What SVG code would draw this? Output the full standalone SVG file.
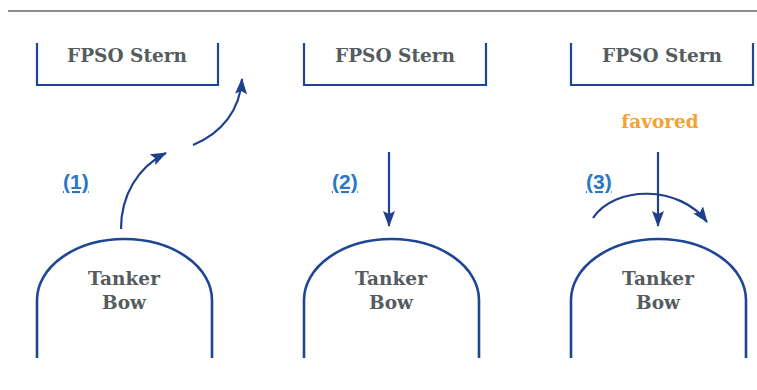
<svg xmlns="http://www.w3.org/2000/svg" width="757" height="390" viewBox="0 0 757 390">
<defs>
<marker id="ah2" markerWidth="16" markerHeight="12" refX="15" refY="6" orient="auto" markerUnits="userSpaceOnUse" viewBox="0 0 16 12">
<path d="M0,0 L16,6 L0,12 L3,6 z" fill="#1f3f8f"/>
</marker>
</defs>
<style>
.box{fill:none;stroke:#1f4595;stroke-width:2.2}
.bow{fill:none;stroke:#1f4595;stroke-width:2.6}
.t{font-family:"DejaVu Serif",serif;font-weight:bold;font-size:18.5px;fill:#555c60;text-anchor:middle}
.lbl{font-family:"Liberation Sans",Arial,sans-serif;font-weight:bold;font-size:21px;fill:#2a78c4;text-decoration:underline}
.fav{font-family:"DejaVu Serif",serif;font-weight:bold;font-size:18.5px;fill:#f4a233;text-anchor:middle}
.c{fill:none;stroke:#1f3f8f;stroke-width:2.2}
</style>
<line x1="8" y1="11" x2="757" y2="11" stroke="#8a8c8e" stroke-width="2"/>
<g id="fpso1"><path class="box" d="M37,43 V85 H218 V43"/><text class="t" x="127" y="62">FPSO Stern</text></g>
<g id="fpso2"><path class="box" d="M304,43 V85 H486 V43"/><text class="t" x="395" y="62">FPSO Stern</text></g>
<g id="fpso3"><path class="box" d="M571,43 V85 H753 V43"/><text class="t" x="662" y="62">FPSO Stern</text></g>
<g id="bow1"><path class="bow" d="M37,358 V300 A87.5,61 0 0 1 212,300 V358"/><text class="t" x="124" y="285">Tanker</text><text class="t" x="124" y="309">Bow</text></g>
<g id="bow2"><path class="bow" d="M304,358 V300 A87.5,61 0 0 1 479,300 V358"/><text class="t" x="391" y="285">Tanker</text><text class="t" x="391" y="309">Bow</text></g>
<g id="bow3"><path class="bow" d="M571,358 V300 A87.5,61 0 0 1 746,300 V358"/><text class="t" x="658" y="285">Tanker</text><text class="t" x="658" y="309">Bow</text></g>
<g id="labels">
<text class="lbl" x="63" y="189">(1)</text>
<text class="lbl" x="332" y="189">(2)</text>
<text class="lbl" x="586" y="189">(3)</text>
<text class="fav" x="660" y="128">favored</text>
</g>
<g id="connectors">
<path class="c" d="M121,229 C121,195 138,167 166,153" marker-end="url(#ah2)"/>
<path class="c" d="M193,145 C222,133 240,110 242,79" marker-end="url(#ah2)"/>
<line class="c" x1="389" y1="152" x2="389" y2="226" marker-end="url(#ah2)"/>
<line class="c" x1="658" y1="152" x2="658" y2="226" marker-end="url(#ah2)"/>
<path class="c" d="M593,218 C615,185 680,185 707,222" marker-end="url(#ah2)"/>
</g>
</svg>
